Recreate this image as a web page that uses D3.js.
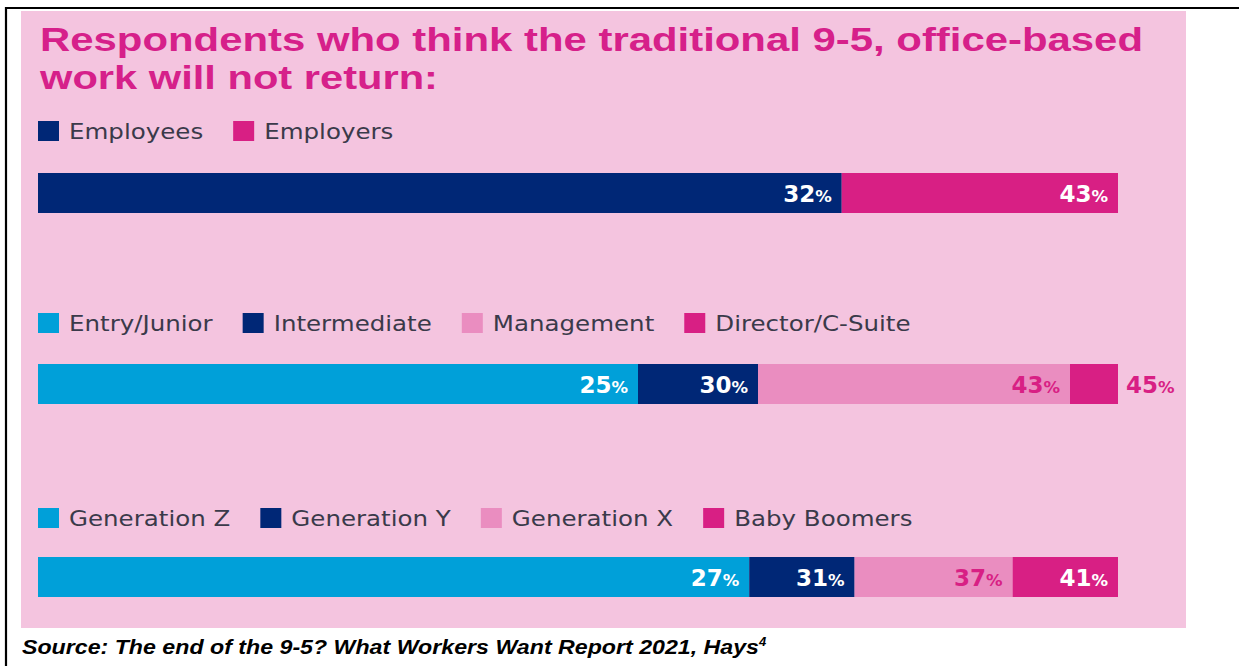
<!DOCTYPE html>
<html>
<head>
<meta charset="utf-8">
<script src="https://cdn.jsdelivr.net/npm/d3@7"></script>
<style>
  html, body { margin: 0; padding: 0; background: #ffffff; }
  svg { display: block; }
</style>
</head>
<body>
<svg id="chart" width="1239" height="666"></svg>
<script>
// Share of respondents who think the 9-5 office-based working pattern will not return
const titleLines = ["Respondents who think the traditional 9-5, office-based", "work will not return:"];
const sourceText = "Source: The end of the 9-5? What Workers Want Report 2021, Hays";
const sourceNote = "4";

const groupRespondent = ["Employees", "Employers"];
const valuesRespondent = [32, 43];

const groupSeniority = ["Entry/Junior", "Intermediate", "Management", "Director/C-Suite"];
const valuesSeniority = [25, 30, 43, 45];

const groupGeneration = ["Generation Z", "Generation Y", "Generation X", "Baby Boomers"];
const valuesGeneration = [27, 31, 37, 41];

const colorsTwo = ["#002776", "#d81f84"];
const colorsFour = ["#00a0d9", "#002776", "#ea8dc0", "#d81f84"];
const labelColors = { "#002776": "#ffffff", "#d81f84": "#ffffff", "#00a0d9": "#ffffff", "#ea8dc0": "#d81f84" };

const svg = d3.select("#chart");
const W = 1239, H = 666;

// frame lines
svg.append("line").attr("x1", 5).attr("x2", W).attr("y1", 8).attr("y2", 8)
  .attr("stroke", "#000").attr("stroke-width", 2.2);
svg.append("line").attr("x1", 6).attr("x2", 6).attr("y1", 7).attr("y2", H)
  .attr("stroke", "#000").attr("stroke-width", 2.2);

// pink panel
const panel = { x0: 21, x1: 1186, y0: 11, y1: 628 };
svg.append("rect").attr("x", panel.x0).attr("y", panel.y0)
  .attr("width", panel.x1 - panel.x0).attr("height", panel.y1 - panel.y0)
  .attr("fill", "#f4c4df");

// title: one text block, two lines stretched to the panel's text width
const titleWidths = [1103, 398];
svg.append("text")
  .attr("fill", "#d6208a")
  .attr("font-family", "Liberation Sans, Arial, sans-serif")
  .attr("font-weight", 700)
  .attr("font-size", 34)
  .selectAll("tspan").data(titleLines).join("tspan")
  .attr("x", 40)
  .attr("y", (d, i) => 51 + i * 38)
  .attr("textLength", (d, i) => titleWidths[i])
  .attr("lengthAdjust", "spacingAndGlyphs")
  .text(d => d);

const barX0 = 38, barX1 = 1118;
const legendFont = "DejaVu Sans, sans-serif";
const legendStretch = 1.14;

function drawGroup(names, values, colors, legendY, barY) {
  const g = svg.append("g");
  // legend: swatch + label, laid out left to right
  let x = barX0;
  names.forEach((name, i) => {
    g.append("rect").attr("x", x).attr("y", legendY - 10).attr("width", 21).attr("height", 20)
      .attr("fill", colors[i]);
    const t = g.append("text").attr("x", x + 31).attr("y", legendY + 8)
      .attr("fill", "#3a3a4a").attr("font-family", legendFont).attr("font-size", 21.5)
      .text(name);
    const w = t.node().getComputedTextLength() * legendStretch;
    t.attr("textLength", w).attr("lengthAdjust", "spacingAndGlyphs");
    x = x + 31 + w + 30;
  });

  // each row spans the full bar width at its largest value
  const xScale = d3.scaleLinear().domain([0, d3.max(values)]).range([barX0, barX1]);
  const segs = values.map((v, i) => ({ name: names[i], start: i === 0 ? 0 : values[i - 1], end: v, color: colors[i] }));
  const barH = 40;
  g.selectAll("rect.seg").data(segs).join("rect").attr("class", "seg")
    .attr("x", d => xScale(d.start))
    .attr("y", barY)
    .attr("width", d => xScale(d.end) - xScale(d.start))
    .attr("height", barH)
    .attr("fill", d => d.color);

  segs.forEach(d => {
    const segW = xScale(d.end) - xScale(d.start);
    const inside = segW > 80;
    const t = g.append("text")
      .attr("x", inside ? xScale(d.end) - 10 : xScale(d.end) + 8)
      .attr("y", barY + barH / 2 + 8.5)
      .attr("text-anchor", inside ? "end" : "start")
      .attr("fill", inside ? labelColors[d.color] : "#d81f84")
      .attr("font-family", "DejaVu Sans, sans-serif")
      .attr("font-weight", 700);
    t.append("tspan").attr("font-size", 23).text(d.end);
    t.append("tspan").attr("font-size", 16.5).attr("font-weight", 600).text("%");
  });
}

drawGroup(groupRespondent, valuesRespondent, colorsTwo, 131, 173);
drawGroup(groupSeniority, valuesSeniority, colorsFour, 323, 364);
drawGroup(groupGeneration, valuesGeneration, colorsFour, 518, 557);

// source line
const src = svg.append("text").attr("x", 22).attr("y", 654)
  .attr("font-family", "Liberation Sans, Arial, sans-serif")
  .attr("font-weight", 700).attr("font-style", "italic").attr("font-size", 20)
  .attr("fill", "#000");
src.append("tspan").text(sourceText).attr("textLength", 737).attr("lengthAdjust", "spacingAndGlyphs");
src.append("tspan").attr("font-size", 13).attr("dy", -8).text(sourceNote);
</script>
</body>
</html>
